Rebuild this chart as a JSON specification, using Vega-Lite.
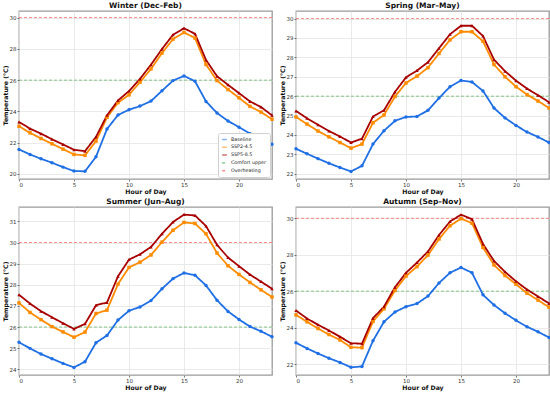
{
  "$schema": "https://vega.github.io/schema/vega-lite/v6.json",
  "padding": {"left": 1, "top": 0, "right": 1, "bottom": 0},
  "background": "white",
  "config": {
    "font": "DejaVu Sans",
    "view": {"stroke": "#9a9a9a", "strokeWidth": 1.3},
    "axis": {"domain": false, "grid": true, "gridColor": "#e4e4e4", "gridWidth": 0.8, "tickColor": "#444", "tickSize": 2, "tickWidth": 0.7, "labelFontSize": 5.5, "labelColor": "#333", "labelPadding": 1, "labelOverlap": false, "titleFontSize": 6.2, "titleFontWeight": "bold", "titleColor": "#111", "titlePadding": 1},
    "title": {"fontSize": 7.5, "fontWeight": "bold", "color": "#111", "offset": 2},
    "legend": {"symbolType": "stroke", "labelFontSize": 4.8, "symbolSize": 22, "symbolStrokeWidth": 1.5, "rowPadding": 0.8, "padding": 3, "fillColor": "white", "strokeColor": "#d0d0d0", "cornerRadius": 2, "offset": 2, "labelColor": "#222", "labelOffset": 3}
  },
  "data": {"values": [
    {"season":"Winter","series":"Comfort upper","temp":26},{"season":"Winter","series":"Overheating","temp":30},
    {"season":"Spring","series":"Comfort upper","temp":26},{"season":"Spring","series":"Overheating","temp":30},
    {"season":"Summer","series":"Comfort upper","temp":26},{"season":"Summer","series":"Overheating","temp":30},
    {"season":"Autumn","series":"Comfort upper","temp":26},{"season":"Autumn","series":"Overheating","temp":30},
    {"season":"Winter","series":"Baseline","hour":0,"temp":21.57},{"season":"Winter","series":"Baseline","hour":1,"temp":21.25},{"season":"Winter","series":"Baseline","hour":2,"temp":20.97},{"season":"Winter","series":"Baseline","hour":3,"temp":20.72},{"season":"Winter","series":"Baseline","hour":4,"temp":20.44},{"season":"Winter","series":"Baseline","hour":5,"temp":20.19},{"season":"Winter","series":"Baseline","hour":6,"temp":20.17},{"season":"Winter","series":"Baseline","hour":7,"temp":21.1},{"season":"Winter","series":"Baseline","hour":8,"temp":22.88},{"season":"Winter","series":"Baseline","hour":9,"temp":23.77},{"season":"Winter","series":"Baseline","hour":10,"temp":24.11},{"season":"Winter","series":"Baseline","hour":11,"temp":24.34},{"season":"Winter","series":"Baseline","hour":12,"temp":24.66},{"season":"Winter","series":"Baseline","hour":13,"temp":25.32},{"season":"Winter","series":"Baseline","hour":14,"temp":25.97},{"season":"Winter","series":"Baseline","hour":15,"temp":26.27},{"season":"Winter","series":"Baseline","hour":16,"temp":25.93},{"season":"Winter","series":"Baseline","hour":17,"temp":24.64},{"season":"Winter","series":"Baseline","hour":18,"temp":23.9},{"season":"Winter","series":"Baseline","hour":19,"temp":23.39},{"season":"Winter","series":"Baseline","hour":20,"temp":22.99},{"season":"Winter","series":"Baseline","hour":21,"temp":22.58},{"season":"Winter","series":"Baseline","hour":22,"temp":22.25},{"season":"Winter","series":"Baseline","hour":23,"temp":21.9},
    {"season":"Winter","series":"SSP2-4.5","hour":0,"temp":23.05},{"season":"Winter","series":"SSP2-4.5","hour":1,"temp":22.63},{"season":"Winter","series":"SSP2-4.5","hour":2,"temp":22.27},{"season":"Winter","series":"SSP2-4.5","hour":3,"temp":21.93},{"season":"Winter","series":"SSP2-4.5","hour":4,"temp":21.59},{"season":"Winter","series":"SSP2-4.5","hour":5,"temp":21.25},{"season":"Winter","series":"SSP2-4.5","hour":6,"temp":21.19},{"season":"Winter","series":"SSP2-4.5","hour":7,"temp":22.1},{"season":"Winter","series":"SSP2-4.5","hour":8,"temp":23.62},{"season":"Winter","series":"SSP2-4.5","hour":9,"temp":24.56},{"season":"Winter","series":"SSP2-4.5","hour":10,"temp":25.06},{"season":"Winter","series":"SSP2-4.5","hour":11,"temp":25.87},{"season":"Winter","series":"SSP2-4.5","hour":12,"temp":26.72},{"season":"Winter","series":"SSP2-4.5","hour":13,"temp":27.73},{"season":"Winter","series":"SSP2-4.5","hour":14,"temp":28.62},{"season":"Winter","series":"SSP2-4.5","hour":15,"temp":29.05},{"season":"Winter","series":"SSP2-4.5","hour":16,"temp":28.69},{"season":"Winter","series":"SSP2-4.5","hour":17,"temp":27.0},{"season":"Winter","series":"SSP2-4.5","hour":18,"temp":25.97},{"season":"Winter","series":"SSP2-4.5","hour":19,"temp":25.4},{"season":"Winter","series":"SSP2-4.5","hour":20,"temp":24.87},{"season":"Winter","series":"SSP2-4.5","hour":21,"temp":24.32},{"season":"Winter","series":"SSP2-4.5","hour":22,"temp":23.96},{"season":"Winter","series":"SSP2-4.5","hour":23,"temp":23.5},
    {"season":"Winter","series":"SSP5-8.5","hour":0,"temp":23.33},{"season":"Winter","series":"SSP5-8.5","hour":1,"temp":22.9},{"season":"Winter","series":"SSP5-8.5","hour":2,"temp":22.58},{"season":"Winter","series":"SSP5-8.5","hour":3,"temp":22.22},{"season":"Winter","series":"SSP5-8.5","hour":4,"temp":21.89},{"season":"Winter","series":"SSP5-8.5","hour":5,"temp":21.55},{"season":"Winter","series":"SSP5-8.5","hour":6,"temp":21.46},{"season":"Winter","series":"SSP5-8.5","hour":7,"temp":22.37},{"season":"Winter","series":"SSP5-8.5","hour":8,"temp":23.75},{"season":"Winter","series":"SSP5-8.5","hour":9,"temp":24.7},{"season":"Winter","series":"SSP5-8.5","hour":10,"temp":25.3},{"season":"Winter","series":"SSP5-8.5","hour":11,"temp":26.08},{"season":"Winter","series":"SSP5-8.5","hour":12,"temp":26.99},{"season":"Winter","series":"SSP5-8.5","hour":13,"temp":27.99},{"season":"Winter","series":"SSP5-8.5","hour":14,"temp":28.9},{"season":"Winter","series":"SSP5-8.5","hour":15,"temp":29.32},{"season":"Winter","series":"SSP5-8.5","hour":16,"temp":28.96},{"season":"Winter","series":"SSP5-8.5","hour":17,"temp":27.29},{"season":"Winter","series":"SSP5-8.5","hour":18,"temp":26.25},{"season":"Winter","series":"SSP5-8.5","hour":19,"temp":25.7},{"season":"Winter","series":"SSP5-8.5","hour":20,"temp":25.17},{"season":"Winter","series":"SSP5-8.5","hour":21,"temp":24.64},{"season":"Winter","series":"SSP5-8.5","hour":22,"temp":24.28},{"season":"Winter","series":"SSP5-8.5","hour":23,"temp":23.75},
    {"season":"Spring","series":"Baseline","hour":0,"temp":23.29},{"season":"Spring","series":"Baseline","hour":1,"temp":23.03},{"season":"Spring","series":"Baseline","hour":2,"temp":22.78},{"season":"Spring","series":"Baseline","hour":3,"temp":22.54},{"season":"Spring","series":"Baseline","hour":4,"temp":22.32},{"season":"Spring","series":"Baseline","hour":5,"temp":22.12},{"season":"Spring","series":"Baseline","hour":6,"temp":22.41},{"season":"Spring","series":"Baseline","hour":7,"temp":23.53},{"season":"Spring","series":"Baseline","hour":8,"temp":24.22},{"season":"Spring","series":"Baseline","hour":9,"temp":24.73},{"season":"Spring","series":"Baseline","hour":10,"temp":24.93},{"season":"Spring","series":"Baseline","hour":11,"temp":24.95},{"season":"Spring","series":"Baseline","hour":12,"temp":25.27},{"season":"Spring","series":"Baseline","hour":13,"temp":25.9},{"season":"Spring","series":"Baseline","hour":14,"temp":26.49},{"season":"Spring","series":"Baseline","hour":15,"temp":26.81},{"season":"Spring","series":"Baseline","hour":16,"temp":26.73},{"season":"Spring","series":"Baseline","hour":17,"temp":26.27},{"season":"Spring","series":"Baseline","hour":18,"temp":25.39},{"season":"Spring","series":"Baseline","hour":19,"temp":24.88},{"season":"Spring","series":"Baseline","hour":20,"temp":24.49},{"season":"Spring","series":"Baseline","hour":21,"temp":24.15},{"season":"Spring","series":"Baseline","hour":22,"temp":23.9},{"season":"Spring","series":"Baseline","hour":23,"temp":23.61},
    {"season":"Spring","series":"SSP2-4.5","hour":0,"temp":24.93},{"season":"Spring","series":"SSP2-4.5","hour":1,"temp":24.56},{"season":"Spring","series":"SSP2-4.5","hour":2,"temp":24.2},{"season":"Spring","series":"SSP2-4.5","hour":3,"temp":23.9},{"season":"Spring","series":"SSP2-4.5","hour":4,"temp":23.61},{"season":"Spring","series":"SSP2-4.5","hour":5,"temp":23.32},{"season":"Spring","series":"SSP2-4.5","hour":6,"temp":23.53},{"season":"Spring","series":"SSP2-4.5","hour":7,"temp":24.63},{"season":"Spring","series":"SSP2-4.5","hour":8,"temp":25.03},{"season":"Spring","series":"SSP2-4.5","hour":9,"temp":25.98},{"season":"Spring","series":"SSP2-4.5","hour":10,"temp":26.68},{"season":"Spring","series":"SSP2-4.5","hour":11,"temp":27.03},{"season":"Spring","series":"SSP2-4.5","hour":12,"temp":27.47},{"season":"Spring","series":"SSP2-4.5","hour":13,"temp":28.2},{"season":"Spring","series":"SSP2-4.5","hour":14,"temp":28.9},{"season":"Spring","series":"SSP2-4.5","hour":15,"temp":29.32},{"season":"Spring","series":"SSP2-4.5","hour":16,"temp":29.32},{"season":"Spring","series":"SSP2-4.5","hour":17,"temp":28.83},{"season":"Spring","series":"SSP2-4.5","hour":18,"temp":27.63},{"season":"Spring","series":"SSP2-4.5","hour":19,"temp":27.0},{"season":"Spring","series":"SSP2-4.5","hour":20,"temp":26.49},{"season":"Spring","series":"SSP2-4.5","hour":21,"temp":26.08},{"season":"Spring","series":"SSP2-4.5","hour":22,"temp":25.75},{"season":"Spring","series":"SSP2-4.5","hour":23,"temp":25.39},
    {"season":"Spring","series":"SSP5-8.5","hour":0,"temp":25.24},{"season":"Spring","series":"SSP5-8.5","hour":1,"temp":24.86},{"season":"Spring","series":"SSP5-8.5","hour":2,"temp":24.53},{"season":"Spring","series":"SSP5-8.5","hour":3,"temp":24.2},{"season":"Spring","series":"SSP5-8.5","hour":4,"temp":23.92},{"season":"Spring","series":"SSP5-8.5","hour":5,"temp":23.61},{"season":"Spring","series":"SSP5-8.5","hour":6,"temp":23.81},{"season":"Spring","series":"SSP5-8.5","hour":7,"temp":24.95},{"season":"Spring","series":"SSP5-8.5","hour":8,"temp":25.27},{"season":"Spring","series":"SSP5-8.5","hour":9,"temp":26.22},{"season":"Spring","series":"SSP5-8.5","hour":10,"temp":26.97},{"season":"Spring","series":"SSP5-8.5","hour":11,"temp":27.32},{"season":"Spring","series":"SSP5-8.5","hour":12,"temp":27.75},{"season":"Spring","series":"SSP5-8.5","hour":13,"temp":28.47},{"season":"Spring","series":"SSP5-8.5","hour":14,"temp":29.19},{"season":"Spring","series":"SSP5-8.5","hour":15,"temp":29.63},{"season":"Spring","series":"SSP5-8.5","hour":16,"temp":29.63},{"season":"Spring","series":"SSP5-8.5","hour":17,"temp":29.1},{"season":"Spring","series":"SSP5-8.5","hour":18,"temp":27.88},{"season":"Spring","series":"SSP5-8.5","hour":19,"temp":27.29},{"season":"Spring","series":"SSP5-8.5","hour":20,"temp":26.8},{"season":"Spring","series":"SSP5-8.5","hour":21,"temp":26.39},{"season":"Spring","series":"SSP5-8.5","hour":22,"temp":26.05},{"season":"Spring","series":"SSP5-8.5","hour":23,"temp":25.69},
    {"season":"Summer","series":"Baseline","hour":0,"temp":25.28},{"season":"Summer","series":"Baseline","hour":1,"temp":24.99},{"season":"Summer","series":"Baseline","hour":2,"temp":24.72},{"season":"Summer","series":"Baseline","hour":3,"temp":24.5},{"season":"Summer","series":"Baseline","hour":4,"temp":24.28},{"season":"Summer","series":"Baseline","hour":5,"temp":24.09},{"season":"Summer","series":"Baseline","hour":6,"temp":24.36},{"season":"Summer","series":"Baseline","hour":7,"temp":25.26},{"season":"Summer","series":"Baseline","hour":8,"temp":25.6},{"season":"Summer","series":"Baseline","hour":9,"temp":26.33},{"season":"Summer","series":"Baseline","hour":10,"temp":26.77},{"season":"Summer","series":"Baseline","hour":11,"temp":26.95},{"season":"Summer","series":"Baseline","hour":12,"temp":27.25},{"season":"Summer","series":"Baseline","hour":13,"temp":27.81},{"season":"Summer","series":"Baseline","hour":14,"temp":28.29},{"season":"Summer","series":"Baseline","hour":15,"temp":28.56},{"season":"Summer","series":"Baseline","hour":16,"temp":28.45},{"season":"Summer","series":"Baseline","hour":17,"temp":27.97},{"season":"Summer","series":"Baseline","hour":18,"temp":27.27},{"season":"Summer","series":"Baseline","hour":19,"temp":26.74},{"season":"Summer","series":"Baseline","hour":20,"temp":26.36},{"season":"Summer","series":"Baseline","hour":21,"temp":26.02},{"season":"Summer","series":"Baseline","hour":22,"temp":25.8},{"season":"Summer","series":"Baseline","hour":23,"temp":25.54},
    {"season":"Summer","series":"SSP2-4.5","hour":0,"temp":27.14},{"season":"Summer","series":"SSP2-4.5","hour":1,"temp":26.69},{"season":"Summer","series":"SSP2-4.5","hour":2,"temp":26.35},{"season":"Summer","series":"SSP2-4.5","hour":3,"temp":26.02},{"season":"Summer","series":"SSP2-4.5","hour":4,"temp":25.77},{"season":"Summer","series":"SSP2-4.5","hour":5,"temp":25.52},{"season":"Summer","series":"SSP2-4.5","hour":6,"temp":25.76},{"season":"Summer","series":"SSP2-4.5","hour":7,"temp":26.64},{"season":"Summer","series":"SSP2-4.5","hour":8,"temp":26.8},{"season":"Summer","series":"SSP2-4.5","hour":9,"temp":28.03},{"season":"Summer","series":"SSP2-4.5","hour":10,"temp":28.82},{"season":"Summer","series":"SSP2-4.5","hour":11,"temp":29.07},{"season":"Summer","series":"SSP2-4.5","hour":12,"temp":29.41},{"season":"Summer","series":"SSP2-4.5","hour":13,"temp":30.02},{"season":"Summer","series":"SSP2-4.5","hour":14,"temp":30.58},{"season":"Summer","series":"SSP2-4.5","hour":15,"temp":30.95},{"season":"Summer","series":"SSP2-4.5","hour":16,"temp":30.9},{"season":"Summer","series":"SSP2-4.5","hour":17,"temp":30.41},{"season":"Summer","series":"SSP2-4.5","hour":18,"temp":29.5},{"season":"Summer","series":"SSP2-4.5","hour":19,"temp":28.9},{"season":"Summer","series":"SSP2-4.5","hour":20,"temp":28.49},{"season":"Summer","series":"SSP2-4.5","hour":21,"temp":28.11},{"season":"Summer","series":"SSP2-4.5","hour":22,"temp":27.76},{"season":"Summer","series":"SSP2-4.5","hour":23,"temp":27.42},
    {"season":"Summer","series":"SSP5-8.5","hour":0,"temp":27.53},{"season":"Summer","series":"SSP5-8.5","hour":1,"temp":27.11},{"season":"Summer","series":"SSP5-8.5","hour":2,"temp":26.75},{"season":"Summer","series":"SSP5-8.5","hour":3,"temp":26.46},{"season":"Summer","series":"SSP5-8.5","hour":4,"temp":26.18},{"season":"Summer","series":"SSP5-8.5","hour":5,"temp":25.91},{"season":"Summer","series":"SSP5-8.5","hour":6,"temp":26.15},{"season":"Summer","series":"SSP5-8.5","hour":7,"temp":27.03},{"season":"Summer","series":"SSP5-8.5","hour":8,"temp":27.16},{"season":"Summer","series":"SSP5-8.5","hour":9,"temp":28.4},{"season":"Summer","series":"SSP5-8.5","hour":10,"temp":29.19},{"season":"Summer","series":"SSP5-8.5","hour":11,"temp":29.44},{"season":"Summer","series":"SSP5-8.5","hour":12,"temp":29.79},{"season":"Summer","series":"SSP5-8.5","hour":13,"temp":30.41},{"season":"Summer","series":"SSP5-8.5","hour":14,"temp":30.97},{"season":"Summer","series":"SSP5-8.5","hour":15,"temp":31.32},{"season":"Summer","series":"SSP5-8.5","hour":16,"temp":31.28},{"season":"Summer","series":"SSP5-8.5","hour":17,"temp":30.78},{"season":"Summer","series":"SSP5-8.5","hour":18,"temp":29.89},{"season":"Summer","series":"SSP5-8.5","hour":19,"temp":29.29},{"season":"Summer","series":"SSP5-8.5","hour":20,"temp":28.88},{"season":"Summer","series":"SSP5-8.5","hour":21,"temp":28.48},{"season":"Summer","series":"SSP5-8.5","hour":22,"temp":28.15},{"season":"Summer","series":"SSP5-8.5","hour":23,"temp":27.81},
    {"season":"Autumn","series":"Baseline","hour":0,"temp":23.17},{"season":"Autumn","series":"Baseline","hour":1,"temp":22.86},{"season":"Autumn","series":"Baseline","hour":2,"temp":22.58},{"season":"Autumn","series":"Baseline","hour":3,"temp":22.32},{"season":"Autumn","series":"Baseline","hour":4,"temp":22.09},{"season":"Autumn","series":"Baseline","hour":5,"temp":21.82},{"season":"Autumn","series":"Baseline","hour":6,"temp":21.87},{"season":"Autumn","series":"Baseline","hour":7,"temp":23.28},{"season":"Autumn","series":"Baseline","hour":8,"temp":24.32},{"season":"Autumn","series":"Baseline","hour":9,"temp":24.86},{"season":"Autumn","series":"Baseline","hour":10,"temp":25.15},{"season":"Autumn","series":"Baseline","hour":11,"temp":25.32},{"season":"Autumn","series":"Baseline","hour":12,"temp":25.73},{"season":"Autumn","series":"Baseline","hour":13,"temp":26.45},{"season":"Autumn","series":"Baseline","hour":14,"temp":27.01},{"season":"Autumn","series":"Baseline","hour":15,"temp":27.3},{"season":"Autumn","series":"Baseline","hour":16,"temp":27.01},{"season":"Autumn","series":"Baseline","hour":17,"temp":25.8},{"season":"Autumn","series":"Baseline","hour":18,"temp":25.24},{"season":"Autumn","series":"Baseline","hour":19,"temp":24.79},{"season":"Autumn","series":"Baseline","hour":20,"temp":24.4},{"season":"Autumn","series":"Baseline","hour":21,"temp":24.05},{"season":"Autumn","series":"Baseline","hour":22,"temp":23.77},{"season":"Autumn","series":"Baseline","hour":23,"temp":23.46},
    {"season":"Autumn","series":"SSP2-4.5","hour":0,"temp":24.7},{"season":"Autumn","series":"SSP2-4.5","hour":1,"temp":24.32},{"season":"Autumn","series":"SSP2-4.5","hour":2,"temp":23.95},{"season":"Autumn","series":"SSP2-4.5","hour":3,"temp":23.62},{"season":"Autumn","series":"SSP2-4.5","hour":4,"temp":23.32},{"season":"Autumn","series":"SSP2-4.5","hour":5,"temp":22.92},{"season":"Autumn","series":"SSP2-4.5","hour":6,"temp":22.9},{"season":"Autumn","series":"SSP2-4.5","hour":7,"temp":24.34},{"season":"Autumn","series":"SSP2-4.5","hour":8,"temp":25.03},{"season":"Autumn","series":"SSP2-4.5","hour":9,"temp":26.04},{"season":"Autumn","series":"SSP2-4.5","hour":10,"temp":26.83},{"season":"Autumn","series":"SSP2-4.5","hour":11,"temp":27.35},{"season":"Autumn","series":"SSP2-4.5","hour":12,"temp":27.98},{"season":"Autumn","series":"SSP2-4.5","hour":13,"temp":28.86},{"season":"Autumn","series":"SSP2-4.5","hour":14,"temp":29.59},{"season":"Autumn","series":"SSP2-4.5","hour":15,"temp":29.98},{"season":"Autumn","series":"SSP2-4.5","hour":16,"temp":29.73},{"season":"Autumn","series":"SSP2-4.5","hour":17,"temp":28.4},{"season":"Autumn","series":"SSP2-4.5","hour":18,"temp":27.44},{"season":"Autumn","series":"SSP2-4.5","hour":19,"temp":26.86},{"season":"Autumn","series":"SSP2-4.5","hour":20,"temp":26.38},{"season":"Autumn","series":"SSP2-4.5","hour":21,"temp":25.89},{"season":"Autumn","series":"SSP2-4.5","hour":22,"temp":25.51},{"season":"Autumn","series":"SSP2-4.5","hour":23,"temp":25.12},
    {"season":"Autumn","series":"SSP5-8.5","hour":0,"temp":24.94},{"season":"Autumn","series":"SSP5-8.5","hour":1,"temp":24.5},{"season":"Autumn","series":"SSP5-8.5","hour":2,"temp":24.16},{"season":"Autumn","series":"SSP5-8.5","hour":3,"temp":23.84},{"season":"Autumn","series":"SSP5-8.5","hour":4,"temp":23.5},{"season":"Autumn","series":"SSP5-8.5","hour":5,"temp":23.14},{"season":"Autumn","series":"SSP5-8.5","hour":6,"temp":23.12},{"season":"Autumn","series":"SSP5-8.5","hour":7,"temp":24.52},{"season":"Autumn","series":"SSP5-8.5","hour":8,"temp":25.15},{"season":"Autumn","series":"SSP5-8.5","hour":9,"temp":26.22},{"season":"Autumn","series":"SSP5-8.5","hour":10,"temp":27.01},{"season":"Autumn","series":"SSP5-8.5","hour":11,"temp":27.57},{"season":"Autumn","series":"SSP5-8.5","hour":12,"temp":28.18},{"season":"Autumn","series":"SSP5-8.5","hour":13,"temp":29.08},{"season":"Autumn","series":"SSP5-8.5","hour":14,"temp":29.82},{"season":"Autumn","series":"SSP5-8.5","hour":15,"temp":30.2},{"season":"Autumn","series":"SSP5-8.5","hour":16,"temp":29.95},{"season":"Autumn","series":"SSP5-8.5","hour":17,"temp":28.59},{"season":"Autumn","series":"SSP5-8.5","hour":18,"temp":27.66},{"season":"Autumn","series":"SSP5-8.5","hour":19,"temp":27.06},{"season":"Autumn","series":"SSP5-8.5","hour":20,"temp":26.54},{"season":"Autumn","series":"SSP5-8.5","hour":21,"temp":26.09},{"season":"Autumn","series":"SSP5-8.5","hour":22,"temp":25.71},{"season":"Autumn","series":"SSP5-8.5","hour":23,"temp":25.33}
  ]},
  "columns": 2,
  "spacing": {"row": 0, "column": 1},
  "resolve": {"scale": {"y": "independent", "x": "independent"}, "legend": {"color": "independent", "strokeDash": "independent"}},
  "concat": [
    {
      "title": "Winter (Dec–Feb)",
      "width": 253, "height": 168,
      "transform": [{"filter": "datum.season === 'Winter'"}],
      "encoding": {"y": {"field": "temp", "type": "quantitative", "scale": {"domain": [19.68, 30.42], "nice": false, "zero": false}, "axis": {"values": [20, 22, 24, 26, 28, 30], "labelOverlap": false, "title": "Temperature (°C)"}}},
      "layer": [
        {"transform": [{"filter": "datum.hour == null"}], "mark": {"type": "rule", "strokeWidth": 1, "opacity": 0.55},
         "encoding": {
           "color": {"field": "series", "type": "nominal", "scale": {"domain": ["Baseline", "SSP2-4.5", "SSP5-8.5", "Comfort upper", "Overheating"], "range": ["#1f6fe5", "#ff8c00", "#a80000", "#2ca02c", "#ff3030"]}, "legend": {"title": null, "orient": "bottom-right"}},
           "strokeDash": {"field": "series", "type": "nominal", "scale": {"domain": ["Baseline", "SSP2-4.5", "SSP5-8.5", "Comfort upper", "Overheating"], "range": [[1, 0], [1, 0], [1, 0], [3, 2], [3, 2]]}, "legend": {"title": null, "orient": "bottom-right"}}}},
        {"transform": [{"filter": "datum.hour != null"}], "mark": {"type": "line", "strokeWidth": 1.8},
         "encoding": {"x": {"field": "hour", "type": "quantitative", "scale": {"domain": [0, 23], "nice": false}, "axis": {"values": [0, 5, 10, 15, 20], "title": "Hour of Day"}},
           "color": {"field": "series", "type": "nominal"},
           "strokeDash": {"field": "series", "type": "nominal"}}},
        {"transform": [{"filter": "datum.hour != null"}], "mark": {"type": "point", "filled": true, "size": 12, "opacity": 1},
         "encoding": {"x": {"field": "hour", "type": "quantitative"},
           "color": {"field": "series", "type": "nominal"},
           "shape": {"field": "series", "type": "nominal", "scale": {"domain": ["Baseline", "SSP2-4.5", "SSP5-8.5"], "range": ["circle", "square", "triangle-up"]}, "legend": null}}}
      ]
    },
    {
      "title": "Spring (Mar–May)",
      "width": 253, "height": 168,
      "transform": [{"filter": "datum.season === 'Spring'"}],
      "encoding": {"y": {"field": "temp", "type": "quantitative", "scale": {"domain": [21.73, 30.39], "nice": false, "zero": false}, "axis": {"values": [22, 23, 24, 25, 26, 27, 28, 29, 30], "labelOverlap": false, "title": "Temperature (°C)"}}},
      "layer": [
        {"transform": [{"filter": "datum.hour == null"}], "mark": {"type": "rule", "strokeWidth": 1, "opacity": 0.55},
         "encoding": {
           "color": {"field": "series", "type": "nominal", "legend": null},
           "strokeDash": {"field": "series", "type": "nominal", "legend": null}}},
        {"transform": [{"filter": "datum.hour != null"}], "mark": {"type": "line", "strokeWidth": 1.8},
         "encoding": {"x": {"field": "hour", "type": "quantitative", "scale": {"domain": [0, 23], "nice": false}, "axis": {"values": [0, 5, 10, 15, 20], "title": "Hour of Day"}},
           "color": {"field": "series", "type": "nominal", "legend": null},
           "strokeDash": {"field": "series", "type": "nominal", "legend": null}}},
        {"transform": [{"filter": "datum.hour != null"}], "mark": {"type": "point", "filled": true, "size": 12, "opacity": 1},
         "encoding": {"x": {"field": "hour", "type": "quantitative"},
           "color": {"field": "series", "type": "nominal", "legend": null},
           "shape": {"field": "series", "type": "nominal", "legend": null}}}
      ]
    },
    {
      "title": "Summer (Jun–Aug)",
      "width": 253, "height": 168,
      "transform": [{"filter": "datum.season === 'Summer'"}],
      "encoding": {"y": {"field": "temp", "type": "quantitative", "scale": {"domain": [23.73, 31.68], "nice": false, "zero": false}, "axis": {"values": [24, 25, 26, 27, 28, 29, 30, 31], "labelOverlap": false, "title": "Temperature (°C)"}}},
      "layer": [
        {"transform": [{"filter": "datum.hour == null"}], "mark": {"type": "rule", "strokeWidth": 1, "opacity": 0.55},
         "encoding": {
           "color": {"field": "series", "type": "nominal", "legend": null},
           "strokeDash": {"field": "series", "type": "nominal", "legend": null}}},
        {"transform": [{"filter": "datum.hour != null"}], "mark": {"type": "line", "strokeWidth": 1.8},
         "encoding": {"x": {"field": "hour", "type": "quantitative", "scale": {"domain": [0, 23], "nice": false}, "axis": {"values": [0, 5, 10, 15, 20], "title": "Hour of Day"}},
           "color": {"field": "series", "type": "nominal", "legend": null},
           "strokeDash": {"field": "series", "type": "nominal", "legend": null}}},
        {"transform": [{"filter": "datum.hour != null"}], "mark": {"type": "point", "filled": true, "size": 12, "opacity": 1},
         "encoding": {"x": {"field": "hour", "type": "quantitative"},
           "color": {"field": "series", "type": "nominal", "legend": null},
           "shape": {"field": "series", "type": "nominal", "legend": null}}}
      ]
    },
    {
      "title": "Autumn (Sep–Nov)",
      "width": 253, "height": 168,
      "transform": [{"filter": "datum.season === 'Autumn'"}],
      "encoding": {"y": {"field": "temp", "type": "quantitative", "scale": {"domain": [21.4, 30.62], "nice": false, "zero": false}, "axis": {"values": [22, 24, 26, 28, 30], "labelOverlap": false, "title": "Temperature (°C)"}}},
      "layer": [
        {"transform": [{"filter": "datum.hour == null"}], "mark": {"type": "rule", "strokeWidth": 1, "opacity": 0.55},
         "encoding": {
           "color": {"field": "series", "type": "nominal", "legend": null},
           "strokeDash": {"field": "series", "type": "nominal", "legend": null}}},
        {"transform": [{"filter": "datum.hour != null"}], "mark": {"type": "line", "strokeWidth": 1.8},
         "encoding": {"x": {"field": "hour", "type": "quantitative", "scale": {"domain": [0, 23], "nice": false}, "axis": {"values": [0, 5, 10, 15, 20], "title": "Hour of Day"}},
           "color": {"field": "series", "type": "nominal", "legend": null},
           "strokeDash": {"field": "series", "type": "nominal", "legend": null}}},
        {"transform": [{"filter": "datum.hour != null"}], "mark": {"type": "point", "filled": true, "size": 12, "opacity": 1},
         "encoding": {"x": {"field": "hour", "type": "quantitative"},
           "color": {"field": "series", "type": "nominal", "legend": null},
           "shape": {"field": "series", "type": "nominal", "legend": null}}}
      ]
    }
  ]
}
